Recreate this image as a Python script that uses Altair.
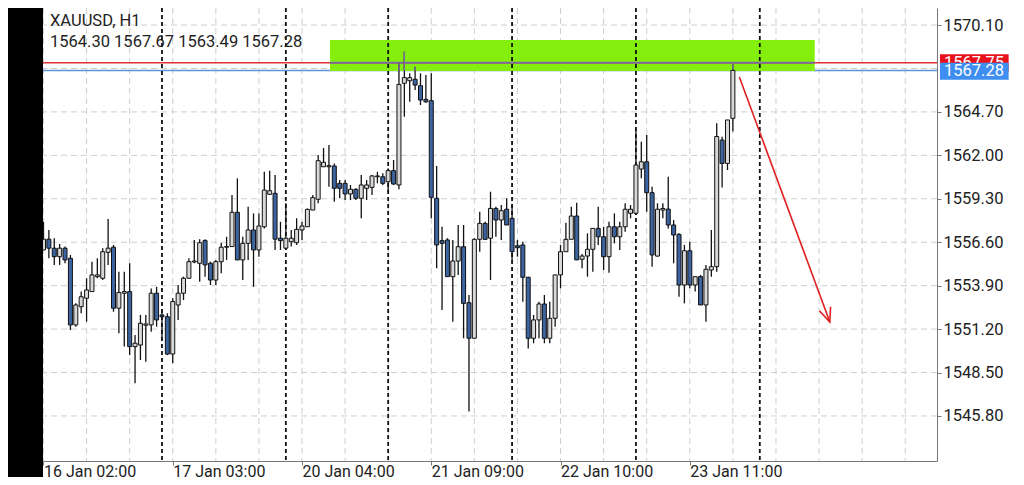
import altair as alt
import pandas as pd

# ---------------- data (XAUUSD H1) ----------------
opens = [1556.12, 1556.79, 1556.23, 1555.70, 1556.23, 1555.60, 1551.46, 1552.59, 1553.12, 1553.53,
         1554.46, 1554.36, 1555.97, 1556.29, 1552.50, 1553.43, 1553.53, 1550.11, 1550.21, 1551.44,
         1551.46, 1553.43, 1552.08, 1551.97, 1549.65, 1552.70, 1553.43, 1554.36, 1555.37, 1555.29,
         1556.70, 1555.29, 1554.25, 1555.39, 1556.29, 1556.33, 1558.46, 1555.50, 1556.53, 1557.36,
         1556.12, 1557.56, 1559.58, 1559.64, 1556.85, 1556.23, 1556.63, 1556.57, 1557.36, 1557.56,
         1558.60, 1559.27, 1561.29, 1561.29, 1561.34, 1560.26, 1560.26, 1559.60, 1559.89, 1559.33,
         1559.95, 1560.01, 1560.67, 1560.67, 1560.36, 1561.05, 1560.16, 1566.48, 1566.64, 1566.73,
         1566.33, 1565.48, 1565.40, 1559.33, 1556.70, 1556.74, 1554.46, 1555.43, 1556.32, 1552.84,
         1550.63, 1556.78, 1557.77, 1556.85, 1558.70, 1557.98, 1558.65, 1558.09, 1556.38, 1556.43,
         1554.42, 1550.63, 1551.77, 1552.76, 1550.63, 1551.87, 1554.57, 1556.01, 1556.78, 1558.23,
         1555.54, 1555.74, 1556.16, 1557.46, 1556.94, 1555.70, 1557.56, 1556.94, 1557.56, 1558.40,
         1558.40, 1561.15, 1561.60, 1559.68, 1555.74, 1558.60, 1558.66, 1557.67, 1557.09, 1553.94,
         1556.07, 1553.94, 1554.46, 1552.70, 1554.87, 1555.08, 1562.95, 1561.50, 1564.30]
highs = [1557.87, 1557.36, 1556.85, 1556.49, 1556.33, 1555.81, 1552.80, 1553.53, 1554.36, 1555.39,
         1555.60, 1556.23, 1558.04, 1556.43, 1554.77, 1554.77, 1555.29, 1550.83, 1552.08, 1552.08,
         1553.73, 1553.83, 1552.39, 1552.18, 1553.12, 1553.94, 1554.46, 1555.60, 1556.74, 1556.79,
         1556.79, 1555.39, 1555.50, 1556.57, 1556.94, 1559.53, 1560.57, 1556.94, 1558.80, 1558.39,
         1558.39, 1560.98, 1561.04, 1560.78, 1557.87, 1559.03, 1557.36, 1558.09, 1557.87, 1558.70,
         1559.53, 1562.02, 1562.46, 1562.64, 1561.50, 1560.47, 1560.47, 1560.16, 1559.95, 1560.78,
         1560.47, 1560.78, 1560.98, 1560.88, 1561.19, 1561.71, 1567.72, 1568.44, 1567.10, 1567.51,
         1567.10, 1566.99, 1567.10, 1561.34, 1557.56, 1556.85, 1556.74, 1557.67, 1557.67, 1553.32,
         1556.85, 1558.50, 1557.87, 1559.74, 1558.81, 1558.91, 1559.33, 1558.91, 1556.74, 1556.63,
         1554.46, 1552.08, 1552.90, 1553.32, 1552.90, 1554.57, 1556.43, 1557.81, 1558.81, 1559.05,
         1555.87, 1557.15, 1557.46, 1558.81, 1557.56, 1557.87, 1558.39, 1557.87, 1559.02, 1558.91,
         1563.57, 1562.85, 1563.26, 1560.05, 1559.02, 1559.02, 1560.67, 1557.98, 1557.15, 1556.43,
         1556.63, 1554.46, 1554.57, 1555.19, 1557.36, 1563.99, 1563.16, 1564.20, 1567.67]
lows = [1556.12, 1555.60, 1555.19, 1555.19, 1555.29, 1551.14, 1551.35, 1552.19, 1551.66, 1553.53,
        1554.36, 1554.25, 1555.19, 1552.28, 1550.94, 1550.11, 1549.59, 1547.83, 1549.28, 1549.17,
        1551.04, 1551.35, 1550.52, 1549.59, 1549.07, 1551.77, 1553.01, 1554.36, 1555.30, 1554.15,
        1554.46, 1553.94, 1553.94, 1554.67, 1555.50, 1556.33, 1555.50, 1554.25, 1555.50, 1553.83,
        1555.70, 1557.46, 1559.53, 1556.12, 1556.12, 1556.12, 1556.33, 1556.43, 1556.74, 1557.56,
        1558.60, 1559.02, 1561.29, 1560.05, 1559.12, 1559.33, 1559.22, 1559.22, 1559.22, 1558.09,
        1559.22, 1559.53, 1560.26, 1560.16, 1559.74, 1560.16, 1559.89, 1564.40, 1565.33, 1566.06,
        1565.13, 1565.27, 1558.09, 1554.98, 1552.39, 1554.46, 1551.66, 1554.57, 1550.63, 1546.07,
        1550.63, 1556.01, 1556.74, 1554.25, 1556.94, 1556.74, 1557.67, 1555.50, 1555.70, 1552.90,
        1550.00, 1550.32, 1550.63, 1550.32, 1550.32, 1551.35, 1553.74, 1556.01, 1556.78, 1555.50,
        1554.98, 1554.46, 1554.77, 1556.43, 1554.87, 1554.70, 1556.53, 1556.12, 1557.25, 1558.09,
        1558.29, 1560.57, 1558.50, 1555.08, 1555.70, 1558.09, 1557.46, 1555.29, 1553.21, 1552.80,
        1553.74, 1553.53, 1552.70, 1551.66, 1554.46, 1554.77, 1560.00, 1561.09, 1563.49]
closes = [1556.79, 1556.23, 1555.70, 1556.23, 1555.50, 1551.46, 1552.70, 1553.21, 1553.63, 1554.57,
          1554.57, 1556.01, 1556.23, 1552.50, 1553.47, 1553.53, 1550.11, 1550.32, 1551.56, 1551.52,
          1553.43, 1551.77, 1551.97, 1549.65, 1552.91, 1553.43, 1554.36, 1555.39, 1555.43, 1556.57,
          1555.19, 1554.25, 1555.39, 1556.29, 1556.33, 1558.46, 1555.50, 1556.53, 1557.36, 1556.12,
          1557.61, 1559.84, 1559.80, 1556.79, 1556.70, 1556.85, 1556.85, 1557.40, 1557.61, 1558.64,
          1559.37, 1561.67, 1561.57, 1561.36, 1559.95, 1559.95, 1559.60, 1559.89, 1559.33, 1560.16,
          1560.16, 1560.72, 1560.72, 1560.26, 1561.05, 1560.22, 1566.41, 1566.83, 1566.83, 1566.37,
          1565.44, 1565.33, 1559.39, 1556.43, 1556.53, 1554.46, 1555.43, 1556.32, 1552.80, 1550.63,
          1556.78, 1557.77, 1556.78, 1558.70, 1557.98, 1558.56, 1557.67, 1556.01, 1556.26, 1554.42,
          1550.63, 1551.77, 1552.76, 1550.63, 1551.87, 1554.57, 1556.01, 1556.78, 1558.23, 1555.50,
          1555.74, 1556.16, 1557.46, 1556.94, 1555.70, 1557.56, 1556.94, 1557.56, 1558.65, 1558.65,
          1561.40, 1561.60, 1559.68, 1555.81, 1558.65, 1558.70, 1557.67, 1557.05, 1553.94, 1556.07,
          1553.94, 1554.46, 1552.70, 1554.92, 1555.08, 1563.17, 1561.50, 1564.20, 1567.28]

x_label_idx = [0, 24, 48, 72, 96, 120]
x_labels = ["16 Jan 02:00", "17 Jan 03:00", "20 Jan 04:00", "21 Jan 09:00", "22 Jan 10:00", "23 Jan 11:00"]
grid_x = list(range(0, 161, 8))
day_sep_idx = [22, 45, 64, 87, 110, 133]
y_grid = [1545.80, 1548.50, 1551.20, 1553.90, 1556.60, 1559.30, 1562.00, 1564.70, 1567.40, 1570.10]
y_labels = [1545.80, 1548.50, 1551.20, 1553.90, 1556.60, 1559.30, 1562.00, 1564.70, 1570.10]

ask_price = 1567.75
bid_price = 1567.28
zone_x = [53.2, 143.2]
zone_y = [1567.24, 1569.17]
arrow_x = [129.2, 146.0]
arrow_y = [1566.87, 1551.64]
title_text = "XAUUSD, H1"
ohlc_text = "1564.30 1567.67 1563.49 1567.28"

# ---------------- frames ----------------
n = len(opens)
df = pd.DataFrame({
    "idx": list(range(n)), "open": opens, "high": highs, "low": lows, "close": closes,
})
df["lo"] = df[["open", "close"]].min(axis=1)
df["hi"] = df[["open", "close"]].max(axis=1)
df["dir"] = ["up" if c >= o else "down" for o, c in zip(opens, closes)]

FONT = "Roboto"
xs = alt.Scale(domain=[-0.09, 165.9], nice=False, zero=False, padding=0)
ys = alt.Scale(domain=[1543.0, 1571.16], nice=False, zero=False, padding=0)

label_expr = " : ".join(
    [f"datum.value == {i} ? '{t}'" for i, t in zip(x_label_idx, x_labels)]) + " : ''"

x_axis = alt.Axis(values=x_label_idx, labelExpr=label_expr, grid=False, title=None,
                  labelAlign="left", labelBaseline="alphabetic", labelPadding=11.5,
                  labelFont=FONT, labelFontSize=16, labelColor="#222222",
                  labelFlush=False, labelOverlap=False,
                  tickSize=4, tickColor="#777777", domainColor="#777777")
y_axis = alt.Axis(orient="right", values=y_labels, format=".2f", grid=False, title=None,
                  labelFont=FONT, labelFontSize=16.5, labelColor="#222222",
                  labelPadding=2, labelFlush=False, labelOverlap=False,
                  tickSize=4, tickColor="#777777", domainColor="#777777")

def X(field):
    return alt.X(field, type="quantitative", scale=xs, axis=x_axis, title=None)

def Y(field):
    return alt.Y(field, type="quantitative", scale=ys, axis=y_axis, title=None)

# grids
vgrid = alt.Chart(pd.DataFrame({"g": grid_x})).mark_rule(
    color="#cfcfcf", strokeDash=[6, 4], strokeWidth=1).encode(x=X("g"))
hgrid = alt.Chart(pd.DataFrame({"p": y_grid})).mark_rule(
    color="#cfcfcf", strokeDash=[6, 4], strokeWidth=1).encode(y=Y("p"))

# blue bid line (under zone)
bid_line = alt.Chart(pd.DataFrame({"p": [bid_price]})).mark_rule(
    color="#5b95dc", strokeWidth=1.5).encode(y=Y("p"))

# green zone
zone = alt.Chart(pd.DataFrame({"x": [zone_x[0]], "x2": [zone_x[1]],
                               "y": [zone_y[0]], "y2": [zone_y[1]]})).mark_rect(
    color="#84ee0c").encode(x=X("x"), x2="x2", y=Y("y"), y2="y2")

# day separators
seps = alt.Chart(pd.DataFrame({"s": day_sep_idx})).mark_rule(
    color="#111111", strokeDash=[4, 3], strokeWidth=1.8).encode(x=X("s"))

# red ask line and its segment inside the zone
ask_line = alt.Chart(pd.DataFrame({"p": [ask_price]})).mark_rule(
    color="#e23232", strokeWidth=1.5).encode(y=Y("p"))
ask_seg = alt.Chart(pd.DataFrame({"x": [zone_x[0]], "x2": [zone_x[1]], "p": [ask_price]})).mark_rule(
    color="#7e6d9c", strokeWidth=2).encode(x=X("x"), x2="x2", y=Y("p"))

# candles
wicks = alt.Chart(df).mark_rule(color="#111111", strokeWidth=1.3).encode(
    x=X("idx"), y=Y("low"), y2="high")
wick_zone = alt.Chart(df).transform_filter(
    f"datum.high > {zone_y[0]} && datum.idx > {zone_x[0]} && datum.idx < {zone_x[1]}"
).transform_calculate(
    zlo=f"max(datum.hi, {zone_y[0]})"
).mark_rule(color="#7e6d9c", strokeWidth=1.5).encode(
    x=X("idx"), y=Y("zlo:Q"), y2="high")
bodies = alt.Chart(df).mark_bar(size=4, stroke="#111111", strokeWidth=1).encode(
    x=X("idx"), y=Y("lo"), y2="hi",
    color=alt.Color("dir:N", scale=alt.Scale(domain=["up", "down"], range=["#d8d8d8", "#3b64a0"]),
                    legend=None))

# red arrow
arrow_df = pd.DataFrame({"x": [arrow_x[0]], "x2": [arrow_x[1]], "y": [arrow_y[0]], "y2": [arrow_y[1]]})
arrow = alt.Chart(arrow_df).mark_rule(color="#e02020", strokeWidth=1.6).encode(
    x=X("x"), x2="x2", y=Y("y"), y2="y2")
head = alt.Chart(pd.DataFrame({"x": [arrow_x[1]], "y": [arrow_y[1]]})).mark_point(
    shape="M-0.42,-1L0,0L0.42,-1", filled=False, stroke="#e02020", strokeWidth=1.6,
    size=800, angle=340, opacity=1).encode(x=X("x"), y=Y("y"))

# price tags on the right
tag_x = [166.45, 179.2]
red_tag = alt.Chart(pd.DataFrame({"x": [tag_x[0]], "x2": [tag_x[1]],
                                  "y": [ask_price - 0.53], "y2": [ask_price + 0.53]})).mark_rect(
    color="#e8121c").encode(x=X("x"), x2="x2", y=Y("y"), y2="y2")
red_tag_t = alt.Chart(pd.DataFrame({"x": [tag_x[0] + 0.75], "p": [ask_price], "t": [f"{ask_price:.2f}"]})).mark_text(
    align="left", baseline="middle", font=FONT, fontSize=16.5, color="white").encode(
    x=X("x"), y=Y("p"), text="t:N")
blue_tag = alt.Chart(pd.DataFrame({"x": [tag_x[0]], "x2": [tag_x[1]],
                                   "y": [bid_price - 0.58], "y2": [bid_price + 0.48]})).mark_rect(
    color="#3d8ef0").encode(x=X("x"), x2="x2", y=Y("y"), y2="y2")
blue_tag_t = alt.Chart(pd.DataFrame({"x": [tag_x[0] + 0.75], "p": [bid_price - 0.05], "t": [f"{bid_price:.2f}"]})).mark_text(
    align="left", baseline="middle", font=FONT, fontSize=16.5, color="white").encode(
    x=X("x"), y=Y("p"), text="t:N")

# phone frame strip on the left
strip = alt.Chart(pd.DataFrame({"x": [-6.7], "x2": [-0.09], "y": [1541.9], "y2": [1571.16]})).mark_rect(
    color="#000000").encode(x=X("x"), x2="x2", y=Y("y"), y2="y2")

# header texts
t1 = alt.Chart(pd.DataFrame({"t": [title_text]})).mark_text(
    align="left", baseline="alphabetic", font=FONT, fontSize=16.5, color="#222222").encode(
    x=alt.value(7), y=alt.value(18), text="t:N")
t2 = alt.Chart(pd.DataFrame({"t": [ohlc_text]})).mark_text(
    align="left", baseline="alphabetic", font=FONT, fontSize=16.5, color="#222222").encode(
    x=alt.value(7), y=alt.value(39), text="t:N")

chart = alt.layer(
    vgrid, hgrid, bid_line, zone, seps, ask_line, ask_seg, wicks, wick_zone, bodies, arrow, head,
    red_tag, red_tag_t, blue_tag, blue_tag_t, strip, t1, t2
).properties(
    width=894, height=453,
    padding={"left": 35, "top": 0, "right": 79, "bottom": 16},
    autosize=alt.AutoSizeParams(type="none"),
    background="white",
).configure_view(stroke=None)

chart.save("out.html", embed_options={"renderer": "svg", "actions": False})
